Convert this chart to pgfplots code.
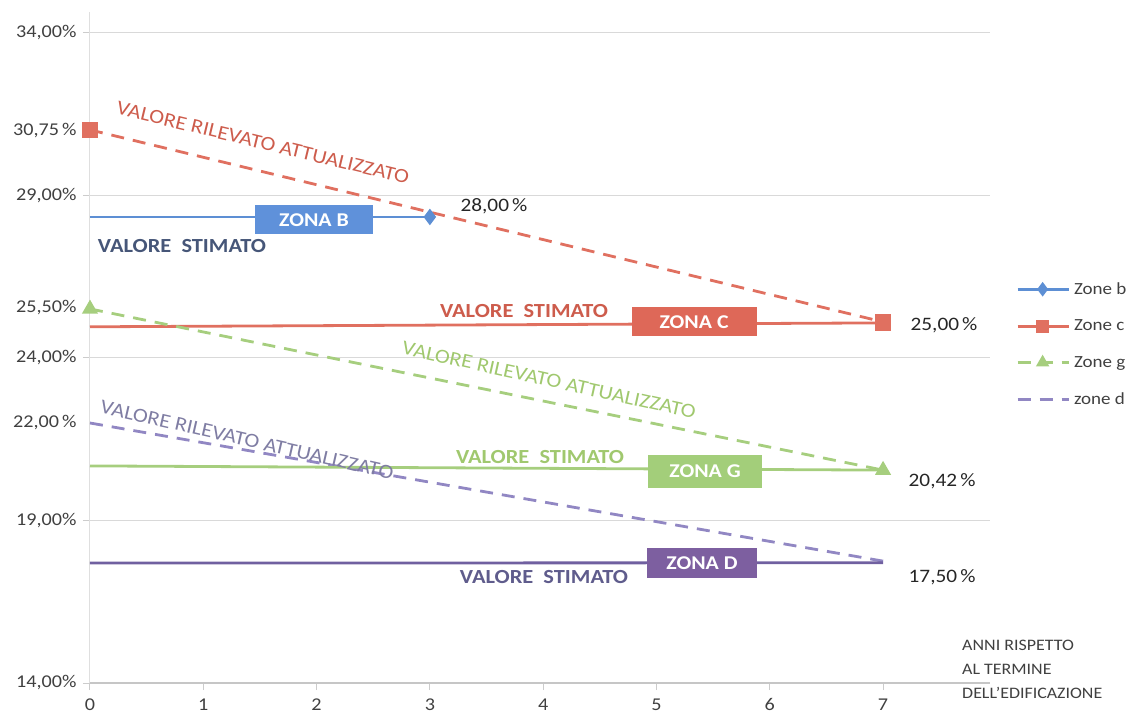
\documentclass[border=0pt]{standalone}
\usepackage{pgfplots}
\pgfplotsset{compat=1.18}
\usepackage{fontspec}
\setmainfont{Carlito}[FakeStretch=1.12]
\definecolor{blueL}{RGB}{93,143,212}
\definecolor{blueBox}{RGB}{95,145,218}
\definecolor{blueTxt}{RGB}{70,86,120}
\definecolor{redL}{RGB}{224,112,96}
\definecolor{redBox}{RGB}{222,104,88}
\definecolor{redTxt}{RGB}{205,92,76}
\definecolor{greenL}{RGB}{166,206,126}
\definecolor{greenBox}{RGB}{163,206,122}
\definecolor{greenTxt}{RGB}{160,200,110}
\definecolor{purpL}{RGB}{112,96,160}
\definecolor{purpDash}{RGB}{145,135,195}
\definecolor{purpBox}{RGB}{125,95,160}
\definecolor{purpTxt}{RGB}{95,92,140}
\definecolor{tickTxt}{RGB}{64,64,64}
\newcommand\tkfont{\fontsize{18}{21}\selectfont}
\newcommand\valfont{\fontsize{19}{22}\selectfont}
\newcommand\zonefont{\fontsize{19.5}{22}\selectfont\bfseries}
\newcommand\rotfont{\fontsize{20}{23}\selectfont}
\newcommand\stimfont{\fontsize{20}{23}\selectfont\bfseries}
\newcommand\legfont{\fontsize{17}{20}\selectfont}
\begin{document}
\begin{tikzpicture}
\useasboundingbox (-90pt,-30pt) rectangle (1039pt,683pt);
\begin{axis}[
  at={(0pt,0pt)}, anchor=south west,
  scale only axis, width=900pt, height=671pt,
  xmin=0, xmax=7.944, ymin=14, ymax=34.646,
  clip=false,
  axis x line*=bottom, axis y line*=left,
  axis line style={-},
  x axis line style={gray!45, line width=1.2pt},
  y axis line style={gray!25, line width=1pt},
  xtick={0,1,2,3,4,5,6,7},
  xticklabels={0,1,2,3,4,5,6,7},
  ytick={14,19,24,29,34},
  yticklabels={{14,00\%},{19,00\%},{24,00\%},{29,00\%},{34,00\%}},
  extra y ticks={22,25.55,31.0},
  extra y tick labels={{22,00\,\%},{25,50\%},{30,75\,\%}},
  extra y tick style={grid=none, major tick length=0pt, yticklabel style={xshift=-7pt}},
  ymajorgrids,
  grid style={gray!30, line width=1pt},
  tick align=outside,
  major tick length=7pt,
  tick style={gray!40, line width=1pt},
  ticklabel style={font=\tkfont, text=tickTxt},
  xticklabel style={yshift=-5pt},
  yticklabel style={xshift=-3pt},
  legend style={at={(1.0289,0.600)}, anchor=north west, draw=none, fill=none,
    font=\legfont, text=tickTxt, row sep=20pt, inner sep=0pt,
    /tikz/every odd column/.append style={column sep=2pt}},
  legend cell align=left,
  legend image code/.code={\draw[#1, mark indices={2}, mark size=5pt] plot coordinates {(0pt,0pt) (25pt,0pt) (51pt,0pt)};},
]
% legend series
\addplot[blueL, line width=2.8pt, mark=diamond*, mark size=6pt, mark indices={2}] coordinates {(0,28.34) (3,28.34)};
\addlegendentry{Zone b}
\addplot[redL, line width=2.8pt, mark=square*, mark size=6.5pt, mark indices={2}] coordinates {(0,24.96) (7,25.08)};
\addlegendentry{Zone c}
\addplot[greenL, line width=2.8pt, dash pattern=on 13pt off 9pt, mark=triangle*, mark size=6.5pt, mark options={solid}] coordinates {(0,25.51) (7,20.55)};
\addlegendentry{Zone g}
\addplot[purpDash, line width=2.8pt, dash pattern=on 13pt off 9pt] coordinates {(0,22.0) (7,17.75)};
\addlegendentry{zone d}
% other series
\addplot[redL, line width=2.8pt, dash pattern=on 13pt off 9pt, mark=square*, mark size=6.5pt, mark options={solid}, forget plot] coordinates {(0,31.02) (7,25.11)};
\addplot[greenL, line width=2.8pt, forget plot] coordinates {(0,20.68) (7,20.55)};
\addplot[purpL, line width=2.8pt, forget plot] coordinates {(0,17.69) (7,17.70)};
% rotated labels
\node[text=redTxt, font=\rotfont, rotate=-13.6] at (axis cs:1.527,30.62) {VALORE RILEVATO ATTUALIZZATO};
\node[text=greenTxt, font=\rotfont, rotate=-12.5] at (axis cs:4.052,23.32) {VALORE RILEVATO ATTUALIZZATO};
\node[text=purpTxt!80, font=\rotfont, rotate=-12.8] at (axis cs:1.386,21.48) {VALORE RILEVATO ATTUALIZZATO};
% estimated value labels
\node[text=blueTxt, font=\stimfont] at (axis cs:0.812,27.45) {VALORE\ \ STIMATO};
\node[text=redTxt, font=\stimfont] at (axis cs:3.831,25.45) {VALORE\ \ STIMATO};
\node[text=greenTxt, font=\stimfont] at (axis cs:3.972,20.95) {VALORE\ \ STIMATO};
\node[text=purpTxt, font=\stimfont] at (axis cs:4.007,17.26) {VALORE\ \ STIMATO};
% value labels
\node[text=black!85, font=\valfont] at (axis cs:3.566,28.68) {28,00\,\%};
\node[text=black!85, font=\valfont] at (axis cs:7.538,25.02) {25,00\,\%};
\node[text=black!85, font=\valfont] at (axis cs:7.521,20.22) {20,42\,\%};
\node[text=black!85, font=\valfont] at (axis cs:7.521,17.26) {17,50\,\%};
% zone boxes
\node[fill=blueBox, text=white, font=\zonefont, minimum width=118pt, minimum height=29pt, inner sep=0pt] at (axis cs:1.977,28.25) {ZONA B};
\node[fill=redBox, text=white, font=\zonefont, minimum width=125pt, minimum height=29pt, inner sep=0pt] at (axis cs:5.332,25.11) {ZONA C};
\node[fill=greenBox, text=white, font=\zonefont, minimum width=114pt, minimum height=33pt, inner sep=0pt] at (axis cs:5.429,20.52) {ZONA G};
\node[fill=purpBox, text=white, font=\zonefont, minimum width=110pt, minimum height=30pt, inner sep=0pt] at (axis cs:5.402,17.69) {ZONA D};
% axis title
\node[anchor=north west, align=left, inner sep=0pt, text=tickTxt, font=\fontsize{16}{24}\selectfont] at (axis cs:7.697,15.33) {ANNI RISPETTO\\AL TERMINE\\DELL'EDIFICAZIONE};
\end{axis}
\end{tikzpicture}
\end{document}
